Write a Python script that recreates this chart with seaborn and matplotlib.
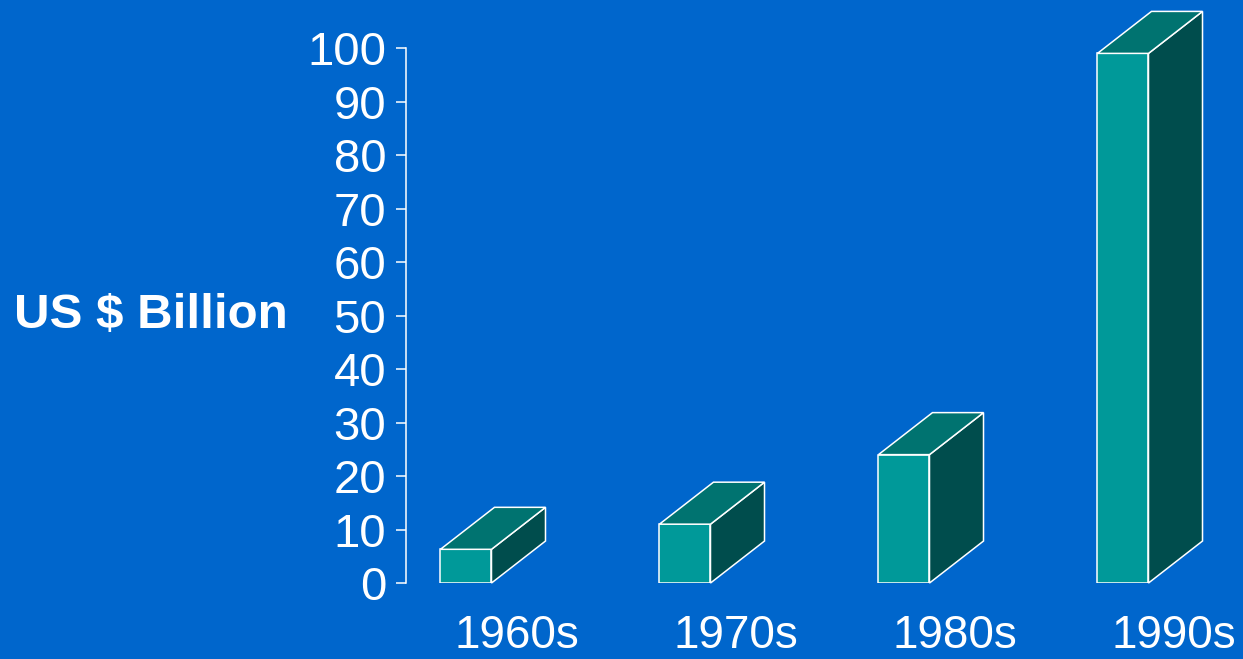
import matplotlib
matplotlib.use("Agg")
import matplotlib.pyplot as plt
from matplotlib.patches import Polygon
import seaborn as sns
import pandas as pd

# Spending per decade (US $ billion)
decades = ["1960s", "1970s", "1980s", "1990s"]
spending = [6.3, 11.0, 24.0, 99.0]
y_ticks = list(range(0, 101, 10))
y_label = "US $ Billion"

BG = "#0066CC"
FRONT = "#009999"
TOP = "#007370"
SIDE = "#004D4D"
EDGE = "white"

sns.set_theme(style="white")
plt.rcParams["font.family"] = ["Liberation Sans", "DejaVu Sans"]

fig = plt.figure(figsize=(12.43, 6.59), dpi=100, facecolor=BG)
ax = fig.add_axes([0.3266, 0.1153, 0.6734, 0.8118])
ax.set_facecolor(BG)

df = pd.DataFrame({"decade": decades, "spending": spending})
sns.barplot(data=df, x="decade", y="spending", color=FRONT, saturation=1,
            width=0.233, edgecolor=EDGE, linewidth=1.1, ax=ax, zorder=3)

ax.set_xlim(-0.274, 3.548)
ax.set_ylim(0, 100)

# Extrude each front face into a box: top face and right side face
DX, DY = 0.2466, 7.85
for patch in list(ax.patches):
    x0, w, h = patch.get_x(), patch.get_width(), patch.get_height()
    top = Polygon([(x0, h), (x0 + w, h), (x0 + w + DX, h + DY), (x0 + DX, h + DY)],
                  closed=True, facecolor=TOP, edgecolor=EDGE, linewidth=1.1,
                  clip_on=False, zorder=3)
    side = Polygon([(x0 + w, 0), (x0 + w + DX, DY), (x0 + w + DX, h + DY), (x0 + w, h)],
                   closed=True, facecolor=SIDE, edgecolor=EDGE, linewidth=1.1,
                   clip_on=False, zorder=3)
    ax.add_patch(side)
    ax.add_patch(top)

ax.set_yticks(y_ticks)
ax.tick_params(axis="y", left=True, labelcolor="white", color="white", labelsize=34,
               length=7.2, width=1.1, pad=7, direction="out")
ax.set_xticks([i + 0.233 for i in range(len(decades))], decades)
ax.tick_params(axis="x", bottom=False, labelcolor="white", labelsize=33, length=0, pad=22.5)

ax.set_xlabel("")
ax.set_ylabel("")
for side_name in ("top", "right", "bottom"):
    ax.spines[side_name].set_visible(False)
ax.spines["left"].set_color("white")
ax.spines["left"].set_linewidth(1.1)

fig.text(14 / 1243, 1 - 316 / 659, y_label, fontsize=35.5, fontweight="bold",
         color="white", ha="left", va="center")

fig.savefig("out.png", dpi=100, facecolor=BG)
